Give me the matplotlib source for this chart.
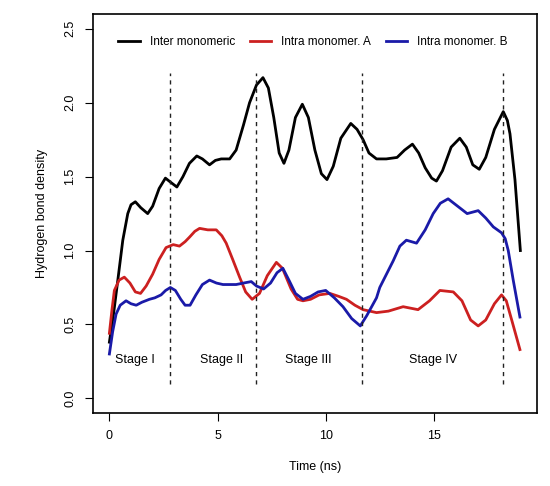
import matplotlib
matplotlib.use('Agg')
import matplotlib.pyplot as plt

plt.rcParams['font.family'] = ['Liberation Sans', 'DejaVu Sans']

# hydrogen bond density
inter_t = [0, 0.2, 0.39, 0.62, 0.85, 1.0, 1.2, 1.45, 1.77, 2.0, 2.3, 2.59, 2.85, 3.12,
           3.4, 3.7, 4.04, 4.3, 4.63, 4.9, 5.17, 5.56, 5.86, 6.2, 6.48, 6.8, 7.1, 7.35,
           7.6, 7.85, 8.07, 8.3, 8.6, 8.92, 9.2, 9.5, 9.8, 10.06, 10.35, 10.7, 11.16,
           11.45, 11.73, 12.0, 12.35, 12.8, 13.3, 13.65, 14.01, 14.3, 14.6, 14.9, 15.12,
           15.4, 15.8, 16.2, 16.5, 16.8, 17.1, 17.4, 17.8, 18.21, 18.4, 18.52, 18.75, 19.0]
inter_v = [0.38, 0.58, 0.80, 1.07, 1.25, 1.31, 1.33, 1.29, 1.25, 1.30, 1.42, 1.49, 1.46, 1.43,
           1.50, 1.59, 1.64, 1.62, 1.58, 1.61, 1.62, 1.62, 1.68, 1.85, 2.00, 2.12, 2.17, 2.10,
           1.90, 1.66, 1.59, 1.68, 1.90, 1.99, 1.90, 1.68, 1.52, 1.48, 1.57, 1.76, 1.86,
           1.82, 1.75, 1.66, 1.62, 1.62, 1.63, 1.68, 1.72, 1.66, 1.56, 1.49, 1.47,
           1.54, 1.70, 1.76, 1.70, 1.58, 1.55, 1.63, 1.82, 1.94, 1.88, 1.79, 1.48, 1.00]

intraA_t = [0, 0.12, 0.23, 0.45, 0.69, 0.95, 1.2, 1.44, 1.7, 2.0, 2.3, 2.62, 2.95, 3.24,
            3.5, 3.7, 3.95, 4.17, 4.55, 4.94, 5.2, 5.4, 5.7, 6.02, 6.3, 6.6, 6.94, 7.3,
            7.72, 8.0, 8.4, 8.7, 8.95, 9.3, 9.7, 10.19, 10.6, 10.96, 11.35, 11.73, 12.35,
            12.9, 13.58, 14.27, 14.8, 15.28, 15.9, 16.3, 16.7, 17.05, 17.4, 17.8, 18.13,
            18.35, 18.6, 18.98]
intraA_v = [0.44, 0.60, 0.73, 0.80, 0.82, 0.78, 0.72, 0.71, 0.76, 0.84, 0.94, 1.02, 1.04, 1.03,
            1.06, 1.09, 1.13, 1.15, 1.14, 1.14, 1.10, 1.05, 0.94, 0.82, 0.72, 0.67, 0.71, 0.83,
            0.92, 0.88, 0.74, 0.67, 0.66, 0.67, 0.70, 0.71, 0.69, 0.67, 0.63, 0.60, 0.58,
            0.59, 0.62, 0.60, 0.66, 0.73, 0.72, 0.66, 0.53, 0.49, 0.53, 0.64, 0.70,
            0.66, 0.53, 0.33]

intraB_t = [0, 0.15, 0.31, 0.5, 0.77, 1.0, 1.24, 1.5, 1.85, 2.1, 2.39, 2.6, 2.82, 3.05,
            3.3, 3.5, 3.73, 4.0, 4.3, 4.63, 4.95, 5.25, 5.86, 6.2, 6.56, 6.8, 7.13, 7.45,
            7.75, 8.02, 8.3, 8.6, 8.95, 9.3, 9.65, 10.0, 10.4, 10.8, 11.2, 11.6, 11.9,
            12.35, 12.5, 13.12, 13.43, 13.73, 14.2, 14.6, 14.97, 15.3, 15.66, 16.1, 16.54,
            17.05, 17.4, 17.75, 18.13, 18.3, 18.44, 18.67, 18.98]
intraB_v = [0.30, 0.45, 0.57, 0.63, 0.66, 0.64, 0.63, 0.65, 0.67, 0.68, 0.70, 0.73, 0.75, 0.73,
            0.67, 0.63, 0.63, 0.70, 0.77, 0.80, 0.78, 0.77, 0.77, 0.78, 0.79, 0.76, 0.74, 0.78,
            0.85, 0.88, 0.80, 0.71, 0.67, 0.69, 0.72, 0.73, 0.68, 0.62, 0.54, 0.49, 0.56,
            0.68, 0.75, 0.93, 1.03, 1.07, 1.05, 1.14, 1.25, 1.32, 1.35, 1.30, 1.25,
            1.27, 1.22, 1.16, 1.12, 1.08, 1.00, 0.80, 0.55]

stage_bounds = [2.8, 6.8, 11.7, 18.2]
stage_names = ['Stage I', 'Stage II', 'Stage III', 'Stage IV']
stage_x = [1.2, 5.2, 9.2, 14.95]

fig = plt.figure(figsize=(5.5, 4.86), dpi=100)
ax = fig.add_axes([0.169, 0.150, 0.807, 0.821])

ax.plot(inter_t, inter_v, color='black', lw=2, label='Inter monomeric')
ax.plot(intraA_t, intraA_v, color='#cc2020', lw=2, label='Intra monomer. A')
ax.plot(intraB_t, intraB_v, color='#1a1aa8', lw=2, label='Intra monomer. B')

for b in stage_bounds:
    ax.plot([b, b], [0.1, 2.2], color='#222222', lw=1, ls=(0, (3, 3)))
for name, sx in zip(stage_names, stage_x):
    ax.text(sx, 0.26, name, ha='center', va='center', fontsize=9)

ax.set_xlim(-0.76, 19.76)
ax.set_ylim(-0.1, 2.6)
ax.set_xticks([0, 5, 10, 15])
ax.set_yticks([0.0, 0.5, 1.0, 1.5, 2.0, 2.5])
ax.set_yticklabels(['0.0', '0.5', '1.0', '1.5', '2.0', '2.5'], rotation=90, va='center')
ax.tick_params(direction='out', length=6, labelsize=9, pad=6)
for s in ax.spines.values():
    s.set_linewidth(1.2)

ax.set_xlabel('Time (ns)', fontsize=9, labelpad=14)
ax.set_ylabel('Hydrogen bond density', fontsize=9, labelpad=12)

ax.legend(loc='center', bbox_to_anchor=(0.496, 0.93), ncol=3, frameon=False,
          fontsize=8.5, handlelength=1.85, columnspacing=1.2, handletextpad=0.85)

fig.savefig('out.png', dpi=100)
